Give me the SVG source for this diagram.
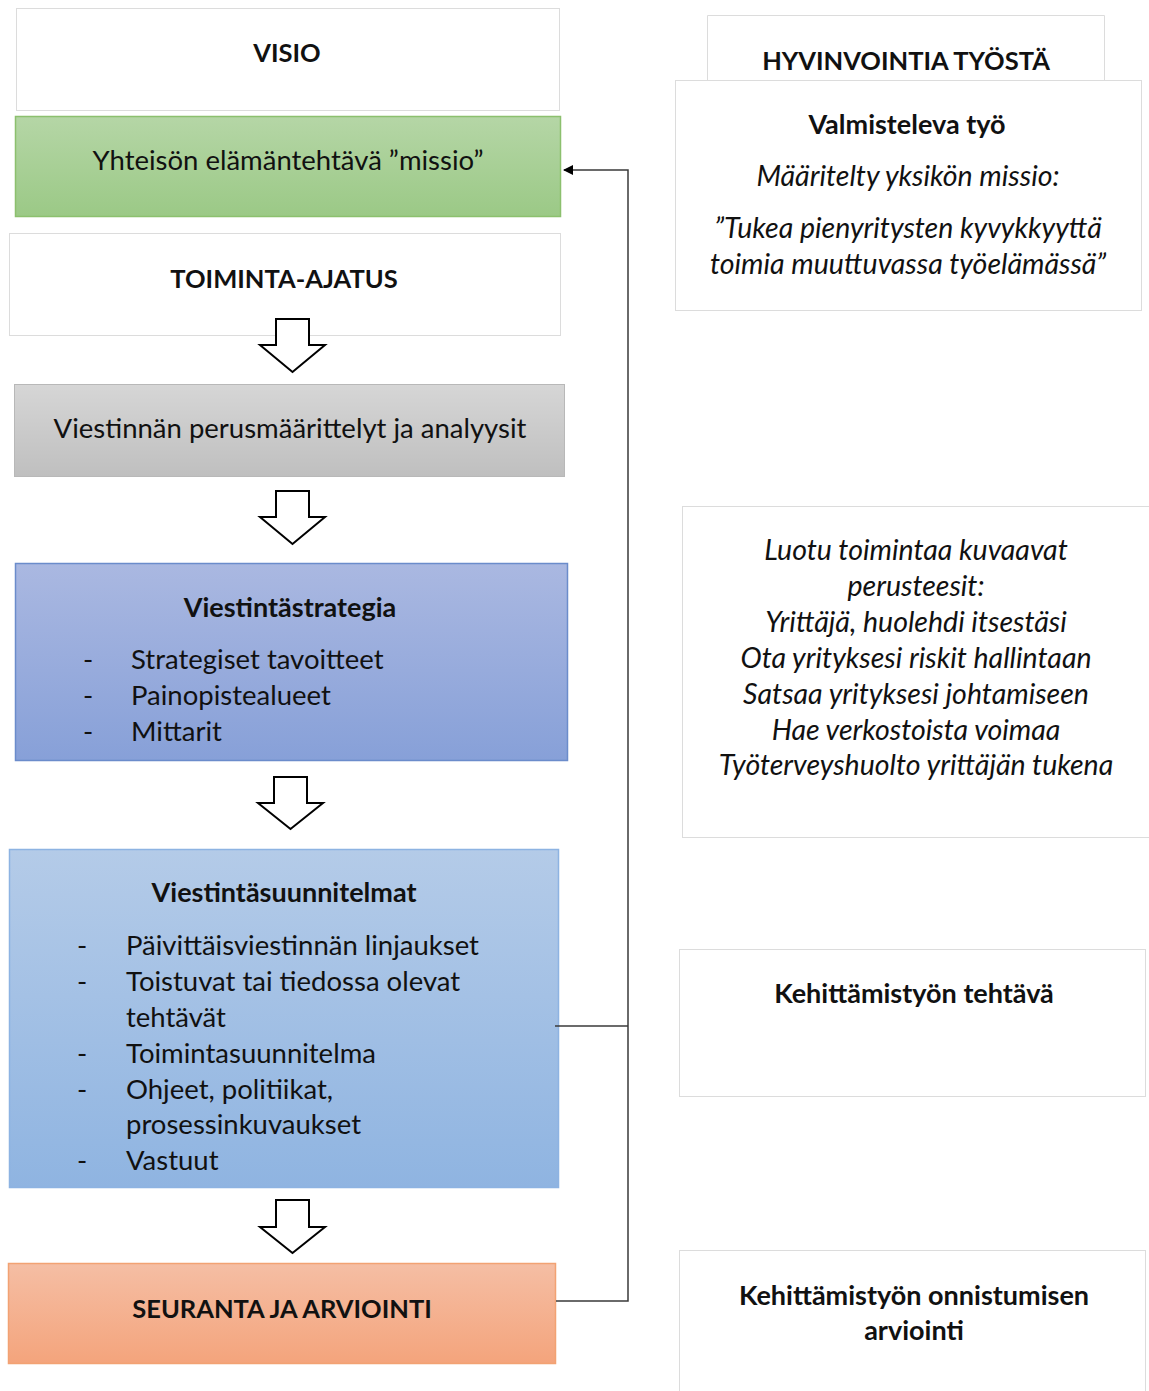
<svg xmlns="http://www.w3.org/2000/svg" width="1149" height="1391" viewBox="0 0 1149 1391">
<defs>
<linearGradient id="gGreen" x1="0" y1="0" x2="0" y2="1"><stop offset="0" stop-color="#b5d6a6"/><stop offset="1" stop-color="#9bc986"/></linearGradient>
<linearGradient id="gGrey" x1="0" y1="0" x2="0" y2="1"><stop offset="0" stop-color="#d6d6d6"/><stop offset="1" stop-color="#bfbfbf"/></linearGradient>
<linearGradient id="gStrat" x1="0" y1="0" x2="0" y2="1"><stop offset="0" stop-color="#aab8e1"/><stop offset="1" stop-color="#87a0d8"/></linearGradient>
<linearGradient id="gPlan" x1="0" y1="0" x2="0" y2="1"><stop offset="0" stop-color="#b4cbe8"/><stop offset="1" stop-color="#8fb4e1"/></linearGradient>
<linearGradient id="gOrange" x1="0" y1="0" x2="0" y2="1"><stop offset="0" stop-color="#f5bea4"/><stop offset="1" stop-color="#f4a47c"/></linearGradient>
<marker id="ah" markerWidth="10" markerHeight="10" refX="9" refY="5" orient="auto" markerUnits="userSpaceOnUse"><path d="M0,0 L10,5 L0,10 Z" fill="#000"/></marker>
</defs>
<style>
text{font-family:Lato,"Noto Sans","Liberation Sans",sans-serif;fill:#111;}
.t{font-size:27.5px;}
.b{font-size:27px;font-weight:bold;}
.bc{font-size:25.5px;font-weight:bold;}
.i{font-size:28.5px;font-style:italic;}
.c{text-anchor:middle;}
.wbox{fill:#fff;stroke:#dcdcdc;stroke-width:1;}
.barrow{fill:#fff;stroke:#000;stroke-width:2;stroke-linejoin:miter;}
.conn{fill:none;stroke:#3a3a3a;stroke-width:1.5;}
</style>
<rect width="1149" height="1391" fill="#fff"/>

<g id="visio"><rect class="wbox" x="16.5" y="8.5" width="543" height="102"/><text class="bc c" x="287" y="62">VISIO</text></g>
<g id="missio"><rect x="15.5" y="116.5" width="545" height="100" fill="url(#gGreen)" stroke="#8cc06e" stroke-width="1.5"/><text class="t c" x="288" y="170">Yhteisön elämäntehtävä ”missio”</text></g>
<g id="toiminta"><rect class="wbox" x="9.5" y="233.5" width="551" height="102"/><text class="bc c" x="284" y="288">TOIMINTA-AJATUS</text></g>
<g id="arrow1"><polygon class="barrow" points="276,319 309,319 309,345 325,345 292.5,372 260,345 276,345"/></g>
<g id="perus"><rect x="14.5" y="384.5" width="550" height="92" fill="url(#gGrey)" stroke="#b8b8b8" stroke-width="1"/><text class="t c" x="290" y="438">Viestinnän perusmäärittelyt ja analyysit</text></g>
<g id="arrow2"><polygon class="barrow" points="276,491 309,491 309,517 325,517 292.5,544 260,517 276,517"/></g>
<g id="strategia"><rect x="15.5" y="563.5" width="552" height="197" fill="url(#gStrat)" stroke="#6b8ccb" stroke-width="1.5"/>
<text class="b c" x="290" y="617">Viestintästrategia</text>
<text class="t" x="83" y="669">-</text><text class="t" x="131" y="669">Strategiset tavoitteet</text>
<text class="t" x="83" y="705">-</text><text class="t" x="131" y="705">Painopistealueet</text>
<text class="t" x="83" y="741">-</text><text class="t" x="131" y="741">Mittarit</text></g>
<g id="arrow3"><polygon class="barrow" points="274,777 307,777 307,803 323,803 290.5,829 258,803 274,803"/></g>
<g id="suunnitelmat"><rect x="9.5" y="849.5" width="549" height="338" fill="url(#gPlan)" stroke="#8db3e2" stroke-width="1.5"/>
<text class="b c" x="284" y="902">Viestintäsuunnitelmat</text>
<text class="t" x="77" y="955">-</text><text class="t" x="126" y="955">Päivittäisviestinnän linjaukset</text>
<text class="t" x="77" y="991">-</text><text class="t" x="126" y="991">Toistuvat tai tiedossa olevat</text>
<text class="t" x="126" y="1027">tehtävät</text>
<text class="t" x="77" y="1063">-</text><text class="t" x="126" y="1063">Toimintasuunnitelma</text>
<text class="t" x="77" y="1099">-</text><text class="t" x="126" y="1099">Ohjeet, politiikat,</text>
<text class="t" x="126" y="1134">prosessinkuvaukset</text>
<text class="t" x="77" y="1170">-</text><text class="t" x="126" y="1170">Vastuut</text></g>
<g id="arrow4"><polygon class="barrow" points="276,1200 309,1200 309,1227 325,1227 292.5,1253 260,1227 276,1227"/></g>
<g id="seuranta"><rect x="8.5" y="1263.5" width="547" height="100" fill="url(#gOrange)" stroke="#f2a273" stroke-width="1.5"/><text class="bc c" x="282" y="1318">SEURANTA JA ARVIOINTI</text></g>

<g id="connectors">
<polyline class="conn" points="556,1301 628,1301 628,170 564,170" marker-end="url(#ah)"/>
<line class="conn" x1="555" y1="1026" x2="628" y2="1026"/>
</g>

<g id="hyvinvointi"><path d="M707.5,80 V15.5 H1104.5 V80" fill="#fff" stroke="#dcdcdc"/><text class="bc c" x="906" y="70">HYVINVOINTIA TYÖSTÄ</text></g>
<g id="valmisteleva"><rect class="wbox" x="675.5" y="80.5" width="466" height="230"/>
<text class="b c" x="907" y="134">Valmisteleva työ</text>
<text class="i c" x="908" y="186">Määritelty yksikön missio:</text>
<text class="i c" x="908" y="238">”Tukea pienyritysten kyvykkyyttä</text>
<text class="i c" x="908" y="274">toimia muuttuvassa työelämässä”</text></g>
<g id="perusteesit"><rect class="wbox" x="682.5" y="506.5" width="470" height="331"/>
<text class="i c" x="916" y="560">Luotu toimintaa kuvaavat</text>
<text class="i c" x="916" y="596">perusteesit:</text>
<text class="i c" x="916" y="632">Yrittäjä, huolehdi itsestäsi</text>
<text class="i c" x="916" y="668">Ota yrityksesi riskit hallintaan</text>
<text class="i c" x="916" y="704">Satsaa yrityksesi johtamiseen</text>
<text class="i c" x="916" y="740">Hae verkostoista voimaa</text>
<text class="i c" x="916" y="775">Työterveyshuolto yrittäjän tukena</text></g>
<g id="tehtava"><rect class="wbox" x="679.5" y="949.5" width="466" height="147"/><text class="b c" x="914" y="1003">Kehittämistyön tehtävä</text></g>
<g id="onnistuminen"><rect class="wbox" x="679.5" y="1250.5" width="466" height="145"/>
<text class="b c" x="914" y="1305">Kehittämistyön onnistumisen</text>
<text class="b c" x="914" y="1340">arviointi</text></g>
</svg>
